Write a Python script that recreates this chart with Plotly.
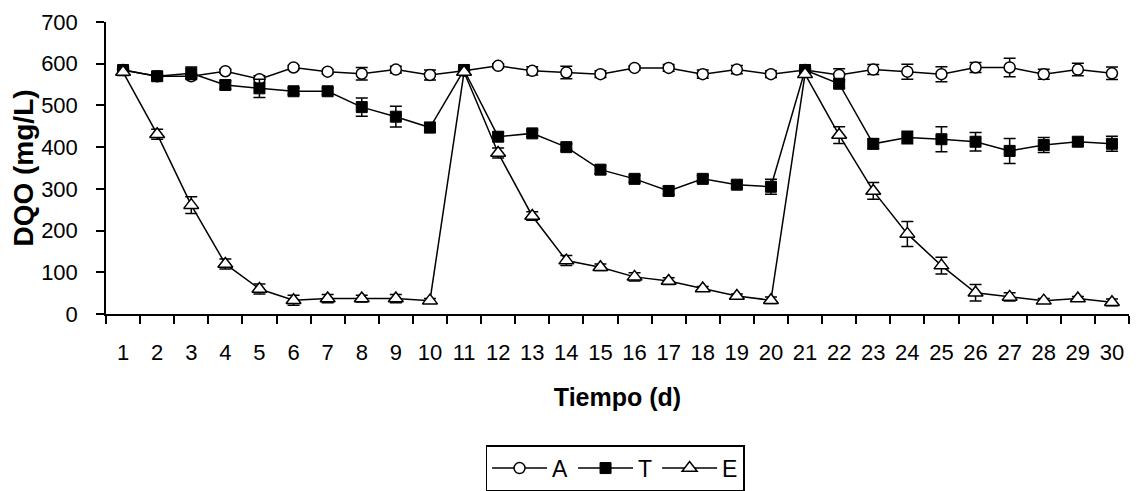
import plotly.graph_objects as go

days = [str(d) for d in range(1, 31)]

A_vals = [585, 570, 570, 582, 563, 591, 581, 576, 586, 573,
          583, 595, 583, 579, 575, 590, 590, 575, 586, 575,
          585, 573, 586, 581, 575, 591, 591, 575, 586, 577]
A_err = [5, 5, 5, 5, 8, 5, 5, 15, 8, 12,
         5, 5, 10, 15, 8, 5, 8, 10, 10, 8,
         5, 15, 12, 18, 18, 12, 22, 12, 15, 15]

T_vals = [585, 570, 577, 549, 541, 534, 534, 496, 473, 447,
          585, 425, 433, 400, 346, 324, 295, 324, 310, 305,
          585, 552, 408, 423, 419, 413, 391, 405, 413, 408]
T_err = [8, 10, 15, 10, 22, 8, 8, 22, 25, 12,
         8, 10, 8, 8, 10, 8, 10, 8, 8, 18,
         5, 10, 12, 15, 30, 22, 30, 18, 10, 18]

E_vals = [580, 431, 261, 120, 60, 33, 37, 37, 37, 32,
          580, 386, 235, 128, 112, 89, 79, 61, 43, 33,
          575, 429, 295, 192, 116, 51, 41, 32, 37, 28]
E_err = [8, 12, 20, 12, 12, 12, 10, 8, 10, 5,
         5, 12, 10, 12, 8, 10, 8, 5, 5, 8,
         5, 20, 20, 30, 20, 20, 10, 5, 5, 8]

font_family = "Liberation Sans, Arial, sans-serif"

def err(e):
    return dict(type="data", array=e, visible=True, color="black",
                thickness=1.5, width=6)

fig = go.Figure()
fig.add_trace(go.Scatter(
    x=days, y=A_vals, name="A", mode="lines+markers",
    line=dict(color="black", width=1.5),
    marker=dict(symbol="circle", size=11, color="white",
                line=dict(color="black", width=1.5)),
    error_y=err(A_err)))
fig.add_trace(go.Scatter(
    x=days, y=T_vals, name="T", mode="lines+markers",
    line=dict(color="black", width=1.5),
    marker=dict(symbol="square", size=11, color="black",
                line=dict(color="black", width=1)),
    error_y=err(T_err)))
fig.add_trace(go.Scatter(
    x=days, y=E_vals, name="E", mode="lines+markers",
    line=dict(color="black", width=1.5),
    marker=dict(symbol="triangle-up", size=13, color="white",
                line=dict(color="black", width=1.5)),
    error_y=err(E_err)))

fig.update_layout(
    width=1130, height=483,
    margin=dict(l=98, r=9, t=14, b=177, autoexpand=False),
    paper_bgcolor="white", plot_bgcolor="white",
    font=dict(family=font_family, size=22, color="black"),
    showlegend=True,
    legend=dict(orientation="h", x=0.4976, xanchor="center",
                y=-0.449, yanchor="top",
                bordercolor="black", borderwidth=1.5,
                font=dict(size=23), itemwidth=55,
                tracegroupgap=0),
)
fig.update_xaxes(
    type="category", range=[-0.5, 29.5], automargin=False,
    showline=True, linecolor="black", linewidth=1.5,
    ticks="outside", tickson="boundaries", ticklen=8,
    tickcolor="black", tickwidth=1.5, ticklabelstandoff=18,
    tickangle=0, ticklabeloverflow="allow",
    showgrid=False, zeroline=False,
    tickfont=dict(size=22),
    title=dict(text="<b>Tiempo (d)</b>", font=dict(size=25), standoff=24),
)
fig.update_yaxes(
    range=[0, 700], dtick=100, automargin=False,
    showline=True, linecolor="black", linewidth=1.5,
    ticks="outside", ticklen=8, tickcolor="black", tickwidth=1.5,
    ticklabelstandoff=14, ticklabeloverflow="allow",
    showgrid=False, zeroline=False,
    tickfont=dict(size=22),
    title=dict(text="<b>DQO (mg/L)</b>", font=dict(size=28), standoff=2),
)

fig.write_html("out.html")
